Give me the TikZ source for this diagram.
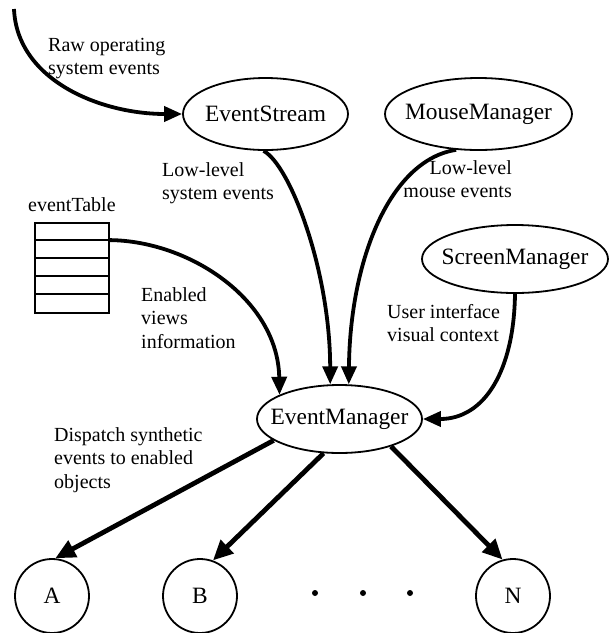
\documentclass[tikz,border=0pt]{standalone}
\usepackage{fontspec}
\setmainfont{Liberation Serif}
\usetikzlibrary{arrows.meta,shapes.geometric}
\tikzset{
  ell/.style={draw, ellipse, line width=1.8pt, inner sep=0pt, minimum height=68pt,
    font=\fontsize{23.4}{28}\selectfont},
  obj/.style={draw, circle, line width=1.8pt, inner sep=0pt, minimum size=74pt,
    font=\fontsize{23.4}{28}\selectfont},
  lbl/.style={inner sep=0pt, align=left, anchor=base west, font=\fontsize{20}{23.5}\selectfont},
  flow/.style={line width=3.8pt, -{Triangle[length=18pt,width=15pt]}},
  dispatch/.style={line width=4.8pt, -{Triangle[length=20pt,width=18pt]}},
  dot/.style={circle, fill, inner sep=0pt, minimum size=6pt},
  tablebox/.style={draw, line width=1.8pt, inner sep=0pt, minimum width=74pt, minimum height=90pt}
}
\begin{document}
\begin{tikzpicture}[x=1pt,y=-1pt]
\useasboundingbox (0,0) rectangle (609,633);

% nodes
\node[ell, minimum width=165pt, minimum height=72pt] (es) at (265.5,114) {\makebox[0pt]{EventStream}};
\node[ell, minimum width=187pt, minimum height=72pt] (mm) at (478.5,114) {\makebox[0pt]{MouseManager}};
\node[ell, minimum width=186pt] (sm) at (515,259) {\makebox[0pt]{ScreenManager}};
\node[ell, minimum width=165pt] (em) at (339.5,419) {\makebox[0pt]{EventManager}};

\node[obj] (A) at (52,596) {A};
\node[obj] (B) at (200,596) {B};
\node[obj] (N) at (513,596) {N};

\node[dot] (d1) at (315,593) {};
\node[dot] (d2) at (363,593) {};
\node[dot] (d3) at (410,593) {};

% event table
\node[tablebox] (tbl) at (72,268) {};
\foreach \s in {18,36,54,72}
  \draw[line width=1.8pt] ([yshift=-\s pt]tbl.north west) -- ([yshift=-\s pt]tbl.north east);
\coordinate (tblout) at ([yshift=-18pt]tbl.north east);
\coordinate (raw) at (14,9);

% labels (base = baseline of the last line)
\node[lbl] (lraw) at (48,74.5) {Raw operating\\system events};
\node[lbl] (lsys) at (162,199.5) {Low-level\\system events};
\node[lbl, align=right, anchor=base east] (lmouse) at (512,197.5) {Low-level\\mouse events};
\node[lbl] (ltbl) at (28,211) {eventTable};
\node[lbl] (lenab) at (141,348) {Enabled\\views\\information};
\node[lbl] (lui) at (387,341.5) {User interface\\visual context};
\node[lbl] (ldisp) at (54,488) {Dispatch synthetic\\events to enabled\\objects};

% connectors
\draw[flow] (raw) .. controls (17,80) and (100,114) .. (es.west);
\draw[flow] (es.267) .. controls (290,165) and (330,270) .. (em.105);
\draw[flow] (mm.238) .. controls (390,160) and (350,260) .. (em.75);
\draw[flow] (tblout) .. controls (190,241) and (278,300) .. (em.158);
\draw[flow] (sm.south) .. controls (514,370) and (485,419) .. (em.east);

\draw[dispatch] (em.198) -- (A.85);
\draw[dispatch] (em.245) -- (B.70);
\draw[dispatch] (em.332) -- (N.106);
\end{tikzpicture}
\end{document}
